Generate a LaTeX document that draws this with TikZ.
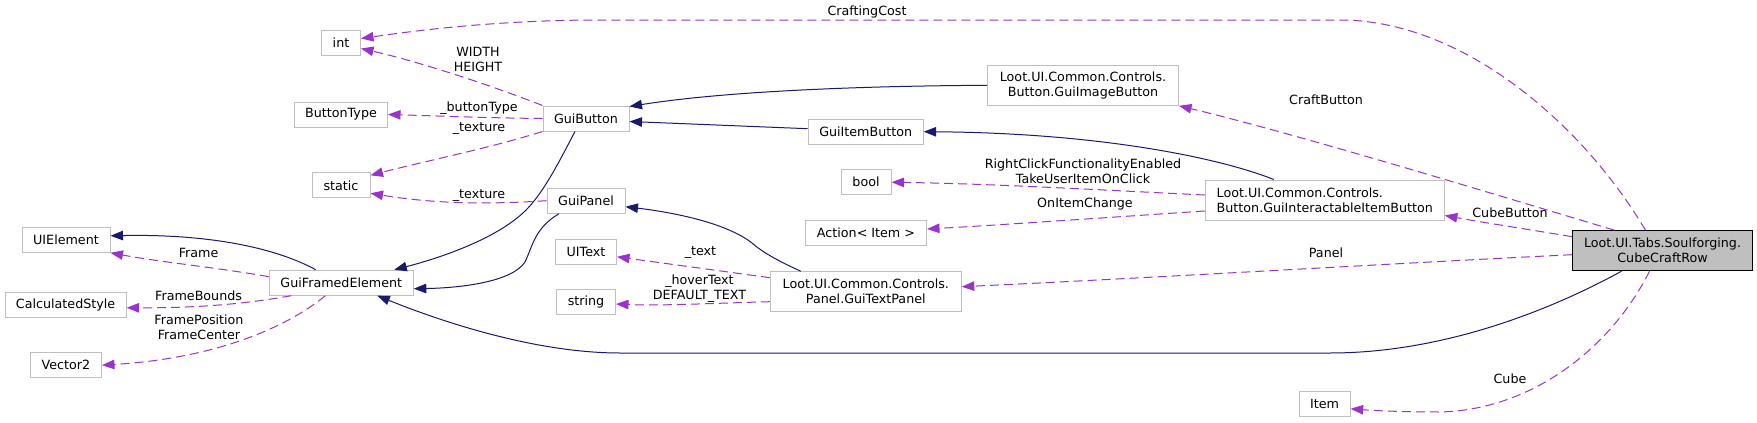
\documentclass[tikz,border=0pt]{standalone}
\usepackage{fontspec}
\setmainfont{DejaVu Sans}
\usetikzlibrary{arrows.meta}
\definecolor{navy}{HTML}{191970}
\definecolor{orch}{HTML}{9A32CD}
\definecolor{boxgray}{HTML}{BFBFBF}
\begin{document}
\begin{tikzpicture}[x=1pt,y=-1pt,
  cls/.style={draw=boxgray, fill=white, line width=1pt, inner sep=0pt, align=center,
    font=\fontsize{12.7}{15}\selectfont, text=black},
  cur/.style={cls, draw=black, fill=boxgray},
  inh/.style={draw=navy, line width=1pt, -{Triangle[length=12.5pt,width=9.5pt]}},
  use/.style={draw=orch, line width=1pt, dash pattern=on 9pt off 5pt, -{Triangle[length=12.5pt,width=9.5pt]}},
  lbl/.style={inner sep=0pt, align=center, font=\fontsize{12.7}{15}\selectfont, text=black}]
\useasboundingbox (0,0) rectangle (1757,423);
\fill[white] (0,0) rectangle (1757,423);
% nodes
\node[cls, minimum width=39pt, minimum height=25pt] (int) at (341,42.5) {int};
\node[cls, minimum width=93pt, minimum height=25pt] (bt) at (341,114.5) {ButtonType};
\node[cls, minimum width=58pt, minimum height=25pt] (st) at (341,185.3) {static};
\node[cls, minimum width=86pt, minimum height=25pt] (gb) at (586,118.5) {GuiButton};
\node[cls, minimum width=78pt, minimum height=25pt] (gp) at (586,200.7) {GuiPanel};
\node[cls, minimum width=88pt, minimum height=25pt] (uie) at (66,239.8) {UIElement};
\node[cls, minimum width=144pt, minimum height=25pt] (gfe) at (341.3,282.7) {GuiFramedElement};
\node[cls, minimum width=121pt, minimum height=25pt] (cs) at (65.6,305.3) {CalculatedStyle};
\node[cls, minimum width=71pt, minimum height=25pt] (v2) at (66,365.2) {Vector2};
\node[cls, minimum width=61pt, minimum height=25pt] (uit) at (586,251.8) {UIText};
\node[cls, minimum width=59pt, minimum height=25pt] (str) at (586,302) {string};
\node[cls, minimum width=191pt, minimum height=40pt] (gtp) at (865.8,291.7) {Loot.UI.Common.Controls.\\Panel.GuiTextPanel};
\node[cls, minimum width=121pt, minimum height=25pt] (act) at (866,233) {Action< Item >};
\node[cls, minimum width=50pt, minimum height=25pt] (bool) at (866,182.2) {bool};
\node[cls, minimum width=115pt, minimum height=25pt] (gitem) at (865.7,131.7) {GuiItemButton};
\node[cls, minimum width=191pt, minimum height=40pt] (gib) at (1083,85.3) {Loot.UI.Common.Controls.\\Button.GuiImageButton};
\node[cls, align=left, minimum width=239pt, minimum height=40pt] (giib) at (1324.8,200) {Loot.UI.Common.Controls.\\Button.GuiInteractableItemButton};
\node[cur, minimum width=180pt, minimum height=40pt] (ccr) at (1662.5,250.7) {Loot.UI.Tabs.Soulforging.\\CubeCraftRow};
\node[cls, minimum width=51pt, minimum height=25pt] (item) at (1324.6,403.8) {Item};
% inheritance
\draw[inh] (gib.west) .. controls (850,86) and (720,92) .. ([yshift=12pt]gb.east);
\draw[inh] ([yshift=3pt]gitem.west) -- ([yshift=-3pt]gb.east);
\draw[inh] ([xshift=-51pt]giib.north) .. controls (1220,158) and (1100,133) .. (gitem.east);
\draw[inh] ([xshift=-11pt]gb.south) .. controls (560,160) and (545,190) .. (528,208) .. controls (500,238) and (440,258) .. ([xshift=53pt]gfe.north);
\draw[inh] ([xshift=-27pt]gp.south) .. controls (535,228) and (533,245) .. (525,262) .. controls (512,282) and (460,288) .. ([yshift=-6pt]gfe.east);
\draw[inh] ([xshift=-65pt]gtp.north) .. controls (780,262) and (762,252) .. (752,243) .. controls (725,222) and (670,212) .. ([yshift=-6pt]gp.east);
\draw[inh] ([xshift=-25.6pt]gfe.north) .. controls (270,245) and (200,234) .. ([yshift=4pt]uie.east);
\draw[inh] ([xshift=-41pt]ccr.south) .. controls (1560,305) and (1450,353) .. (1330,353) -- (620,353) .. controls (540,353) and (450,325) .. ([xshift=36pt]gfe.south);
% usage
\draw[use] (gb.north west) .. controls (490,85) and (420,62) .. ([yshift=-6pt]int.east);
\draw[use] (gb.west) .. controls (490,118) and (440,116) .. (bt.east);
\draw[use] (gb.south west) .. controls (490,148) and (430,160) .. ([yshift=10pt]st.east);
\draw[use] (gp.west) .. controls (480,205) and (430,203) .. ([yshift=-8pt]st.east);
\draw[use] ([yshift=6pt]gfe.west) .. controls (220,268) and (160,262) .. (uie.south east);
\draw[use] ([xshift=-50pt]gfe.south) .. controls (240,305) and (190,308) .. ([yshift=-2.5pt]cs.east);
\draw[use] ([xshift=-16pt]gfe.south) .. controls (290,325) and (220,358) .. (v2.east);
\draw[use] ([yshift=14pt]gtp.west) -- ([yshift=-5pt]uit.east);
\draw[use] ([yshift=-10pt]gtp.west) .. controls (720,303) and (660,306) .. ([yshift=-2pt]str.east);
\draw[use] ([yshift=5pt]giib.west) .. controls (1100,190) and (1000,184) .. (bool.east);
\draw[use] ([yshift=-11pt]giib.west) .. controls (1100,218) and (1000,225) .. ([yshift=4pt]act.east);
\draw[use] ([yshift=14pt]ccr.west) .. controls (1520,228) and (1480,222) .. ([yshift=5pt]giib.south east);
\draw[use] ([yshift=-4pt]ccr.west) .. controls (1400,263) and (1150,278) .. ([yshift=5pt]gtp.east);
\draw[use] ([xshift=-48pt]ccr.north) .. controls (1480,190) and (1300,135) .. (gib.south east);
\draw[use] ([xshift=-17pt]ccr.north) .. controls (1580,120) and (1460,20) .. (1340,20) -- (600,20) .. controls (500,20) and (420,30) .. ([yshift=4pt]int.east);
\draw[use] ([xshift=-13pt]ccr.south) .. controls (1610,350) and (1530,410) .. (1440,412) .. controls (1410,412) and (1380,411) .. ([yshift=-5pt]item.east);
% labels
\node[lbl] (l1) at (867,11.7) {CraftingCost};
\node[lbl] (l2) at (478,59) {WIDTH\\HEIGHT};
\node[lbl] (l3) at (479,107.7) {\_buttonType};
\node[lbl] (l4) at (479,128.7) {\_texture};
\node[lbl] (l5) at (479,195.7) {\_texture};
\node[lbl] (l6) at (198.6,252.7) {Frame};
\node[lbl] (l7) at (198.6,295.7) {FrameBounds};
\node[lbl] (l8) at (199,327) {FramePosition\\FrameCenter};
\node[lbl] (l9) at (700.5,252.7) {\_text};
\node[lbl] (l10) at (699.5,288.2) {\_hoverText\\DEFAULT\_TEXT};
\node[lbl] (l11) at (1083,171) {RightClickFunctionalityEnabled\\TakeUserItemOnClick};
\node[lbl] (l12) at (1085,204) {OnItemChange};
\node[lbl] (l13) at (1326,99.3) {CraftButton};
\node[lbl] (l14) at (1510,212.3) {CubeButton};
\node[lbl] (l15) at (1326,252.3) {Panel};
\node[lbl] (l16) at (1510,378.7) {Cube};
\end{tikzpicture}
\end{document}
